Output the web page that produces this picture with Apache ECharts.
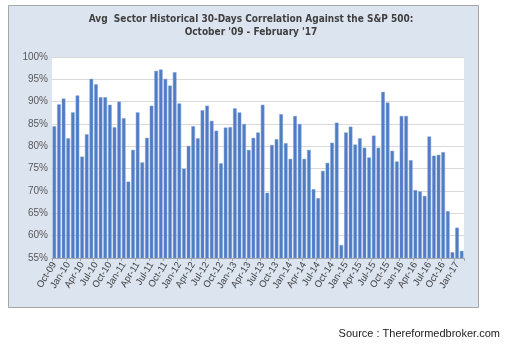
<!DOCTYPE html>
<html><head><meta charset="utf-8">
<script src="https://cdn.jsdelivr.net/npm/echarts@6/dist/echarts.min.js"></script>
<style>html,body{margin:0;padding:0;background:#fff}#c{width:509px;height:349px}</style>
</head><body><div id="c"></div>
<script>
const categories = ['Oct-09','Nov-09','Dec-09',
'Jan-10','Feb-10','Mar-10','Apr-10','May-10','Jun-10','Jul-10','Aug-10','Sep-10','Oct-10','Nov-10','Dec-10',
'Jan-11','Feb-11','Mar-11','Apr-11','May-11','Jun-11','Jul-11','Aug-11','Sep-11','Oct-11','Nov-11','Dec-11',
'Jan-12','Feb-12','Mar-12','Apr-12','May-12','Jun-12','Jul-12','Aug-12','Sep-12','Oct-12','Nov-12','Dec-12',
'Jan-13','Feb-13','Mar-13','Apr-13','May-13','Jun-13','Jul-13','Aug-13','Sep-13','Oct-13','Nov-13','Dec-13',
'Jan-14','Feb-14','Mar-14','Apr-14','May-14','Jun-14','Jul-14','Aug-14','Sep-14','Oct-14','Nov-14','Dec-14',
'Jan-15','Feb-15','Mar-15','Apr-15','May-15','Jun-15','Jul-15','Aug-15','Sep-15','Oct-15','Nov-15','Dec-15',
'Jan-16','Feb-16','Mar-16','Apr-16','May-16','Jun-16','Jul-16','Aug-16','Sep-16','Oct-16','Nov-16','Dec-16',
'Jan-17','Feb-17'];
const correlation = [84.5,89.4,90.7,81.8,87.6,91.4,77.7,82.7,95.1,93.9,91.0,91.0,89.3,84.3,90.0,86.3,72.1,79.2,
87.6,76.4,81.9,89.1,96.9,97.2,95.1,93.6,96.6,89.6,75.0,80.1,84.5,81.8,88.1,89.1,85.7,83.5,
76.2,84.2,84.3,88.5,87.6,85.0,79.2,81.9,83.1,89.3,69.6,80.3,81.6,87.2,80.7,77.2,86.8,85.0,
77.2,79.2,70.4,68.4,74.5,76.3,80.8,85.3,57.9,83.1,84.4,80.4,81.8,79.7,77.5,82.4,79.7,
92.2,89.8,79.0,76.6,86.8,86.8,76.9,70.2,69.9,68.9,82.2,77.9,78.1,78.7,65.5,56.3,61.8,56.6];
const yTicks = {min:55, max:100, interval:5};
const titleLines = ["Avg  Sector Historical 30-Days Correlation Against the S&P 500:", "October '09 - February '17"];
const sourceText = 'Source : Thereformedbroker.com';

const chart = echarts.init(document.getElementById('c'), null, {renderer:'canvas'});
chart.setOption({
  animation:false,
  backgroundColor:'#fff',
  graphic:[
    {type:'rect', z:-10, shape:{x:8.5,y:5.5,width:470,height:302}, style:{fill:'#dce4f0', stroke:'#a6a6a6', lineWidth:1}},
    {type:'text', right:9, top:328, style:{text:sourceText, font:'11px "Liberation Sans", Arial, sans-serif', fill:'#1a1a1a'}}
  ],
  title:{
    text: titleLines.join('\n'),
    left:246, textAlign:'center', top:8,
    textStyle:{fontSize:10, fontWeight:'bold', color:'#404040', lineHeight:13, fontFamily:'"Liberation Sans Narrow","DejaVu Sans Condensed", Arial, sans-serif'}
  },
  grid:{left:52, right:45, top:57, bottom:91, show:true, backgroundColor:'#fff', borderWidth:0},
  xAxis:{
    type:'category', data:categories,
    axisLine:{show:true, lineStyle:{color:'#a6a6a6'}},
    axisTick:{show:true, interval:2, length:3, alignWithLabel:false, lineStyle:{color:'#a6a6a6'}},
    axisLabel:{interval:2, rotate:58, fontSize:9.5, color:'#404040', margin:5, fontFamily:'"Liberation Sans", Arial, sans-serif'}
  },
  yAxis:{
    type:'value', min:yTicks.min, max:yTicks.max, interval:yTicks.interval,
    axisLine:{show:false}, axisTick:{show:false},
    splitLine:{lineStyle:{color:'#d9d9d9'}},
    axisLabel:{formatter:'{value}%', fontSize:10, color:'#595959', margin:4, fontFamily:'"Liberation Sans", Arial, sans-serif'}
  },
  series:[{
    type:'bar', data:correlation, barCategoryGap:'22%',
    itemStyle:{color:'#4f7cc4', borderColor:'#7d9fd6', borderWidth:0.5}
  }]
});
</script></body></html>
